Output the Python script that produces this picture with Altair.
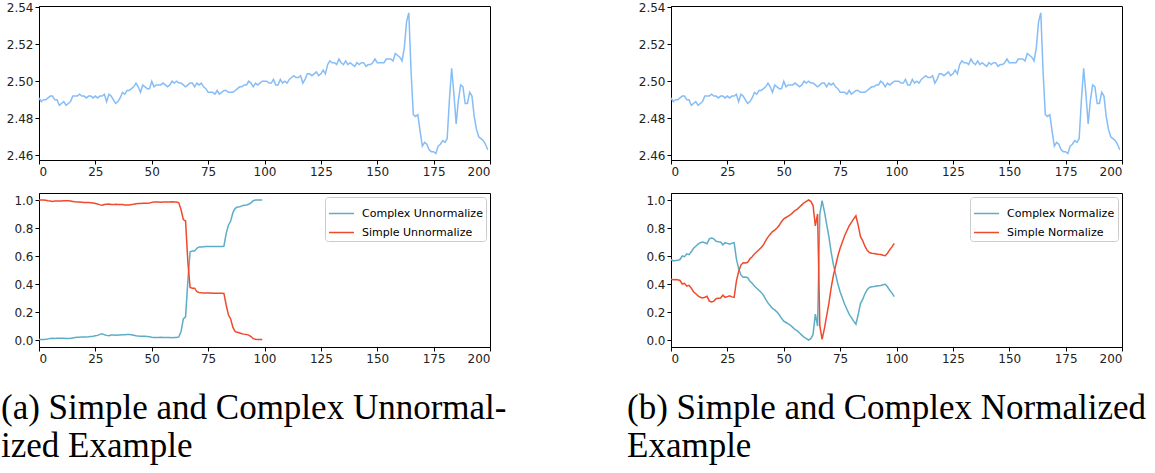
import altair as alt
import pandas as pd

# ---------------- data ----------------
reference_series = [
    2.491, 2.489, 2.490, 2.490, 2.491, 2.492, 2.492, 2.490, 2.490, 2.487,
    2.488, 2.489, 2.487, 2.488, 2.489, 2.492, 2.492, 2.492, 2.493, 2.492,
    2.492, 2.491, 2.492, 2.492, 2.491, 2.492, 2.491, 2.492, 2.492, 2.493,
    2.489, 2.493, 2.492, 2.490, 2.488, 2.489, 2.491, 2.494, 2.493, 2.495,
    2.495, 2.496, 2.497, 2.499, 2.497, 2.494, 2.498, 2.497, 2.496, 2.496,
    2.500, 2.497, 2.498, 2.498, 2.498, 2.499, 2.498, 2.497, 2.498, 2.500,
    2.499, 2.500, 2.499, 2.499, 2.498, 2.497, 2.498, 2.499, 2.499, 2.497,
    2.499, 2.498, 2.499, 2.497, 2.496, 2.494, 2.494, 2.494, 2.493, 2.495,
    2.493, 2.494, 2.495, 2.495, 2.494, 2.494, 2.494, 2.495, 2.496, 2.497,
    2.497, 2.498, 2.498, 2.500, 2.499, 2.497, 2.499, 2.498, 2.499, 2.500,
    2.500, 2.500, 2.499, 2.499, 2.501, 2.498, 2.498, 2.501, 2.499, 2.500,
    2.499, 2.501, 2.502, 2.503, 2.502, 2.502, 2.503, 2.499, 2.501, 2.504,
    2.504, 2.503, 2.504, 2.505, 2.503, 2.504, 2.506, 2.504, 2.509, 2.511,
    2.510, 2.510, 2.509, 2.512, 2.510, 2.509, 2.511, 2.509, 2.510, 2.509,
    2.508, 2.510, 2.509, 2.510, 2.510, 2.508, 2.509, 2.509, 2.510, 2.512,
    2.510, 2.510, 2.510, 2.510, 2.512, 2.512, 2.512, 2.511, 2.515, 2.514,
    2.513, 2.511, 2.518, 2.532, 2.537, 2.505, 2.482, 2.481, 2.482, 2.473,
    2.465, 2.467, 2.466, 2.463, 2.462, 2.462, 2.461, 2.465, 2.466, 2.468,
    2.467, 2.469, 2.490, 2.507, 2.493, 2.477, 2.490, 2.498, 2.497, 2.488,
    2.488, 2.494, 2.492, 2.481, 2.474, 2.470, 2.469, 2.468, 2.466, 2.463,
]

complex_unnormalize = [
    0.003, 0.003, 0.003, 0.005, 0.008, 0.010, 0.012, 0.010, 0.012, 0.012,
    0.012, 0.012, 0.010, 0.010, 0.012, 0.015, 0.018, 0.020, 0.020, 0.021,
    0.022, 0.022, 0.023, 0.025, 0.027, 0.030, 0.033, 0.040, 0.045, 0.037,
    0.033, 0.030, 0.035, 0.036, 0.034, 0.036, 0.036, 0.037, 0.038, 0.039,
    0.040, 0.037, 0.034, 0.030, 0.028, 0.027, 0.026, 0.026, 0.025, 0.024,
    0.020, 0.018, 0.018, 0.018, 0.019, 0.018, 0.018, 0.017, 0.017, 0.016,
    0.017, 0.018, 0.022, 0.060, 0.150, 0.165, 0.420, 0.630, 0.635, 0.635,
    0.655, 0.665, 0.665, 0.666, 0.667, 0.667, 0.667, 0.668, 0.668, 0.668,
    0.668, 0.668, 0.670, 0.760, 0.820, 0.850, 0.910, 0.940, 0.950, 0.952,
    0.958, 0.962, 0.965, 0.970, 0.980, 0.995, 1.000, 1.000, 1.000, 1.000,
]

simple_unnormalize = [
    1.000, 1.000, 1.000, 0.998, 0.995, 0.993, 0.990, 0.992, 0.993, 0.993,
    0.993, 0.994, 0.995, 0.995, 0.993, 0.990, 0.987, 0.985, 0.985, 0.984,
    0.983, 0.983, 0.982, 0.980, 0.978, 0.975, 0.972, 0.965, 0.962, 0.968,
    0.970, 0.972, 0.968, 0.967, 0.970, 0.968, 0.968, 0.967, 0.965, 0.965,
    0.965, 0.968, 0.970, 0.973, 0.975, 0.975, 0.976, 0.976, 0.977, 0.978,
    0.983, 0.985, 0.985, 0.985, 0.984, 0.985, 0.985, 0.986, 0.986, 0.987,
    0.986, 0.985, 0.980, 0.930, 0.860, 0.850, 0.560, 0.375, 0.370, 0.370,
    0.345, 0.340, 0.337, 0.336, 0.335, 0.335, 0.335, 0.334, 0.334, 0.334,
    0.334, 0.334, 0.333, 0.250, 0.180, 0.150, 0.090, 0.060, 0.055, 0.050,
    0.045, 0.042, 0.040, 0.035, 0.025, 0.010, 0.005, 0.003, 0.003, 0.003,
]

complex_normalize = [
    0.575, 0.565, 0.568, 0.570, 0.575, 0.600, 0.595, 0.615, 0.610, 0.630,
    0.655, 0.670, 0.685, 0.695, 0.700, 0.695, 0.688, 0.722, 0.728, 0.722,
    0.705, 0.702, 0.700, 0.680, 0.695, 0.690, 0.685, 0.692, 0.695, 0.580,
    0.510, 0.465, 0.448, 0.450, 0.445, 0.420, 0.405, 0.385, 0.370, 0.355,
    0.340, 0.320, 0.290, 0.265, 0.245, 0.225, 0.215, 0.200, 0.180, 0.155,
    0.135, 0.125, 0.115, 0.105, 0.090, 0.075, 0.065, 0.050, 0.035, 0.020,
    0.010, 0.000, 0.010, 0.040, 0.185, 0.100, 0.900, 0.995, 0.920, 0.830,
    0.740, 0.630, 0.540, 0.470, 0.400, 0.345, 0.300, 0.255, 0.220, 0.185,
    0.160, 0.135, 0.113, 0.180, 0.260, 0.290, 0.330, 0.360, 0.375, 0.380,
    0.382, 0.385, 0.388, 0.390, 0.395, 0.398, 0.380, 0.355, 0.335, 0.310,
]

simple_normalize = [
    0.435, 0.430, 0.432, 0.430, 0.425, 0.400, 0.405, 0.385, 0.390, 0.370,
    0.345, 0.330, 0.315, 0.305, 0.300, 0.305, 0.312, 0.278, 0.272, 0.278,
    0.295, 0.298, 0.300, 0.320, 0.305, 0.310, 0.315, 0.308, 0.305, 0.420,
    0.490, 0.535, 0.552, 0.550, 0.555, 0.580, 0.595, 0.615, 0.630, 0.645,
    0.660, 0.680, 0.710, 0.735, 0.755, 0.775, 0.785, 0.800, 0.820, 0.845,
    0.865, 0.875, 0.885, 0.895, 0.910, 0.925, 0.935, 0.950, 0.965, 0.980,
    0.990, 1.000, 0.990, 0.960, 0.815, 0.900, 0.100, 0.005, 0.080, 0.170,
    0.260, 0.370, 0.460, 0.530, 0.600, 0.655, 0.700, 0.745, 0.780, 0.815,
    0.840, 0.865, 0.887, 0.820, 0.740, 0.710, 0.670, 0.640, 0.625, 0.620,
    0.618, 0.615, 0.612, 0.610, 0.605, 0.602, 0.620, 0.645, 0.665, 0.690,
]

x_ticks = [0, 25, 50, 75, 100, 125, 150, 175, 200]
top_y_ticks = [2.46, 2.48, 2.50, 2.52, 2.54]
bottom_y_ticks = [0.0, 0.2, 0.4, 0.6, 0.8, 1.0]

caption_a = ["(a) Simple and Complex Unnormal-", "ized Example"]
caption_b = ["(b) Simple and Complex Normalized", "Example"]

legend_a = ["Complex Unnormalize", "Simple Unnormalize"]
legend_b = ["Complex Normalize", "Simple Normalize"]

# ---------------- styling ----------------
TOP_COLOR = "#86bdf6"
CYAN = "#5eadc6"
RED = "#ef4a2c"
PANEL_W = 451
PANEL_H = 154
AXIS_FONT = "DejaVu Sans"
CAPTION_FONT = "Liberation Serif"


def x_enc():
    return alt.X(
        "x:Q",
        scale=alt.Scale(domain=[0, 200], nice=False, zero=False),
        axis=alt.Axis(values=x_ticks, title=None, format="d"),
    )


def top_panel():
    df = pd.DataFrame({"x": list(range(len(reference_series))), "y": reference_series})
    return (
        alt.Chart(df)
        .mark_line(color=TOP_COLOR, strokeWidth=1.5)
        .encode(
            x=x_enc(),
            y=alt.Y(
                "y:Q",
                scale=alt.Scale(domain=[2.4575, 2.5406], nice=False, zero=False),
                axis=alt.Axis(values=top_y_ticks, format=".2f", title=None),
            ),
        )
        .properties(width=PANEL_W, height=PANEL_H)
    )


def bottom_panel(complex_vals, simple_vals, names, caption, dx):
    rows = []
    for i, v in enumerate(complex_vals):
        rows.append({"x": i, "y": v, "series": names[0]})
    for i, v in enumerate(simple_vals):
        rows.append({"x": i, "y": v, "series": names[1]})
    df = pd.DataFrame(rows)
    return (
        alt.Chart(
            df,
            title=alt.TitleParams(
                text=caption,
                orient="bottom",
                anchor="start",
                frame="group",
                font=CAPTION_FONT,
                fontSize=35,
                fontWeight="normal",
                color="black",
                dx=dx,
                offset=27,
                lineHeight=38,
            ),
        )
        .mark_line(strokeWidth=1.5)
        .encode(
            x=x_enc(),
            y=alt.Y(
                "y:Q",
                scale=alt.Scale(domain=[-0.05, 1.05], nice=False, zero=False),
                axis=alt.Axis(values=bottom_y_ticks, format=".1f", title=None),
            ),
            color=alt.Color(
                "series:N",
                scale=alt.Scale(domain=names, range=[CYAN, RED]),
                sort=names,
                legend=alt.Legend(
                    title=None,
                    orient="top-right",
                    offset=4,
                    symbolType="stroke",
                    symbolSize=625,
                    symbolStrokeWidth=1.5,
                    labelFont=AXIS_FONT,
                    labelFontSize=11,
                    labelColor="black",
                    fillColor="white",
                    strokeColor="#cccccc",
                    cornerRadius=3,
                    padding=3,
                    rowPadding=0,
                    labelOffset=7,
                ),
            ),
        )
        .properties(width=PANEL_W, height=PANEL_H)
    )


chart = (
    alt.concat(
        top_panel(),
        top_panel(),
        bottom_panel(complex_unnormalize, simple_unnormalize, legend_a, caption_a, -38),
        bottom_panel(complex_normalize, simple_normalize, legend_b, caption_b, -44),
        columns=2,
        spacing={"row": 33, "column": 181},
        bounds="flush",
    )
    .resolve_scale(color="independent")
    .resolve_legend(color="independent")
    .properties(padding={"left": 0, "top": 0, "right": 0, "bottom": 0}, background="white")
    .configure_view(stroke="black", strokeWidth=1)
    .configure_axis(
        grid=False,
        domainColor="black",
        domainWidth=1,
        tickColor="black",
        tickSize=4,
        tickWidth=1,
        labelFont=AXIS_FONT,
        labelFontSize=12,
        labelColor="#222222",
        labelPadding=2,
    )
)

chart.save("out.html", embed_options={"renderer": "svg", "actions": False})
